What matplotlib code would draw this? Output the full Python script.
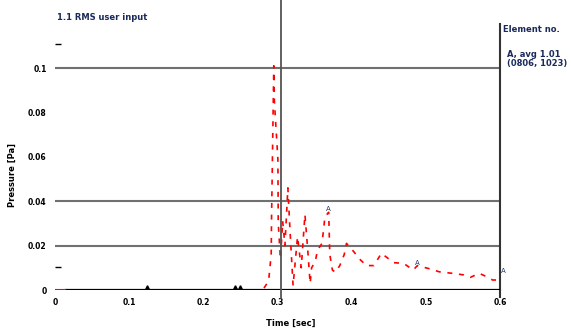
import matplotlib
matplotlib.use("Agg")
from matplotlib import pyplot as plt

# pressure trace
time = [0.000, 0.014, 0.280, 0.288, 0.2915, 0.2920, 0.2950, 0.2958, 0.3005, 0.3010,
        0.3040, 0.3070, 0.3100, 0.3140, 0.3150, 0.3170, 0.3210, 0.3240, 0.3270, 0.3320,
        0.3370, 0.3410, 0.3440, 0.3460, 0.3510, 0.3540, 0.3600, 0.3640, 0.3690, 0.3705,
        0.3740, 0.3780, 0.3840, 0.3900, 0.3930, 0.4010, 0.4120, 0.4200, 0.4300, 0.4400,
        0.4570, 0.4700, 0.4830, 0.4886, 0.5080, 0.5180, 0.5360, 0.5510, 0.5600, 0.5720,
        0.5820, 0.5900, 0.6000]
pressure = [0.000, 0.000, 0.000, 0.004, 0.016, 0.033, 0.101, 0.085, 0.059, 0.030,
            0.014, 0.031, 0.020, 0.046, 0.039, 0.026, 0.002, 0.013, 0.024, 0.010,
            0.034, 0.017, 0.003, 0.010, 0.013, 0.018, 0.021, 0.033, 0.035, 0.016,
            0.009, 0.008, 0.011, 0.016, 0.021, 0.018, 0.0135, 0.011, 0.011, 0.0165,
            0.0123, 0.012, 0.009, 0.011, 0.0093, 0.0082, 0.0075, 0.0068, 0.0057, 0.0075,
            0.006, 0.0045, 0.0045]

# "A" annotations along the trace
mark_t = [0.369, 0.4886, 0.605]
mark_p = [0.035, 0.011, 0.007]
# small event marks on the baseline
event_t = [0.124, 0.243, 0.250]

xticks = [0, 0.1, 0.2, 0.3, 0.4, 0.5, 0.6]
xticklabels = ["0", "0.1", "0.2", "0.3", "0.4", "0.5", "0.6"]
yticks = [0, 0.02, 0.04, 0.06, 0.08, 0.1]
yticklabels = ["0", "0.02", "0.04", "0.06", "0.08", "0.1"]
grid_levels = [0.02, 0.04, 0.1]
cursor_t = 0.305

fig = plt.figure(figsize=(5.71, 3.31), dpi=100)
ax = fig.add_axes([55 / 571, 1 - 290 / 331, 445 / 571, 266.4 / 331])
ax.set_xlim(0, 0.6)
ax.set_ylim(0, 0.12)

for s in ["left", "top", "bottom"]:
    ax.spines[s].set_visible(False)
ax.spines["right"].set_linewidth(1.5)
ax.spines["right"].set_color("#333333")

for g in grid_levels:
    ax.axhline(g, color="#707070", lw=1.5, zorder=1)

ax.plot(time, pressure, color="red", lw=1.2, dashes=(3, 4), zorder=2)
# red start of the trace sits on top of the baseline
ax.plot(time[:2], pressure[:2], color="red", lw=1.5, zorder=4)

# baseline and cursor line
ax.axhline(0, xmin=0.024, color="black", lw=1.6, zorder=3)
ax.axvline(cursor_t, ymin=-0.03, ymax=1.09, color="#555555", lw=1.3, clip_on=False, zorder=3)
ax.plot([0.6, 0.6], [0, -0.003], color="#333333", lw=1.5, clip_on=False)

for t, p in zip(mark_t, mark_p):
    ax.text(t, p, "A", fontsize=5, color="#1f3a6e", ha="center", va="bottom",
            clip_on=False, zorder=4)
for t in event_t:
    ax.plot(t, 0.0015, marker="^", ms=2.5, color="black", zorder=4)
ax.plot([0.004, 0.004], [0.0104, 0.111], ls="none", marker="_", ms=4,
        color="black", clip_on=False)

ax.set_xticks(xticks)
ax.set_xticklabels(xticklabels)
ax.set_yticks(yticks)
ax.set_yticklabels(yticklabels)
ax.tick_params(length=0, labelsize=5.5, pad=6)
for lab in ax.get_xticklabels() + ax.get_yticklabels():
    lab.set_fontweight("bold")

fig.text(291 / 571, 1 - 323 / 331, "Time [sec]", fontsize=6, fontweight="bold",
         ha="center", va="center")
fig.text(12 / 571, 1 - 175 / 331, "Pressure [Pa]", fontsize=6, fontweight="bold",
         rotation=90, ha="center", va="center")
fig.text(57 / 571, 1 - 17 / 331, "1.1 RMS user input", fontsize=6, fontweight="bold",
         color="#1a2a5a", ha="left", va="center")
fig.text(503 / 571, 1 - 30 / 331, "Element no.", fontsize=6, fontweight="bold",
         color="#1a2a5a", ha="left", va="center")
fig.text(507 / 571, 1 - 59 / 331, "A, avg 1.01\n(0806, 1023)", fontsize=6,
         fontweight="bold", color="#1a2a5a", ha="left", va="center", linespacing=1.1)

fig.savefig("out.png", dpi=100)
